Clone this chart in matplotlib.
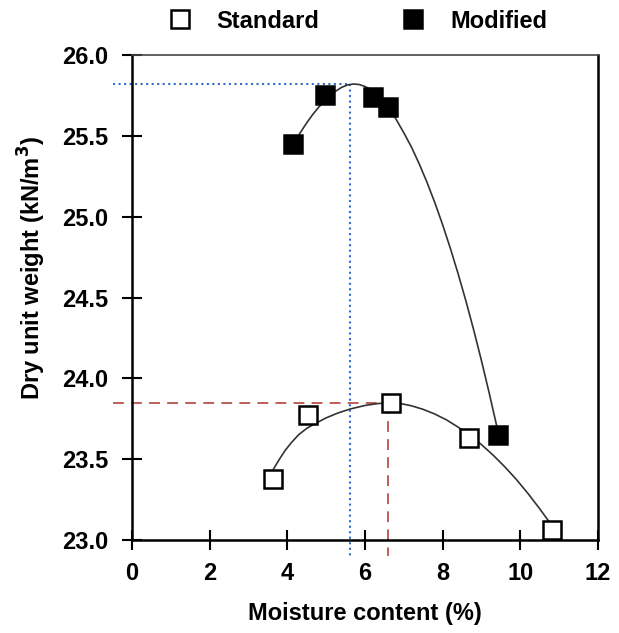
import matplotlib
matplotlib.use('Agg')
import matplotlib.pyplot as plt
from matplotlib.lines import Line2D

plt.rcParams['font.family'] = ['Liberation Sans', 'DejaVu Sans']
plt.rcParams['font.weight'] = 'bold'

# measured points
std_w = [3.63, 4.53, 6.67, 8.67, 10.82]
std_g = [23.38, 23.77, 23.85, 23.63, 23.06]
mod_w = [4.14, 4.96, 6.22, 6.59, 9.42]
mod_g = [25.45, 25.75, 25.74, 25.68, 23.65]

# fitted curves
std_curve_w = [3.65, 3.8, 3.95, 4.1, 4.29, 4.5, 4.72, 5.0, 5.3, 5.62, 6.0, 6.3, 6.6, 6.9,
               7.2, 7.5, 7.8, 8.1, 8.4, 8.7, 9.0, 9.3, 9.6, 9.9, 10.2, 10.5, 10.72, 10.8]
std_curve_g = [23.44, 23.50, 23.555, 23.60, 23.65, 23.69, 23.72, 23.755, 23.785, 23.81, 23.832, 23.843, 23.849, 23.845,
               23.83, 23.808, 23.779, 23.743, 23.698, 23.648, 23.59, 23.525, 23.453, 23.374, 23.287, 23.193, 23.12, 23.093]
mod_curve_w = [4.2, 4.35, 4.5, 4.65, 4.8, 4.95, 5.1, 5.25, 5.4, 5.55, 5.7, 5.85, 6.0, 6.15, 6.3, 6.45, 6.57,
               6.8, 7.0, 7.2, 7.4, 7.6, 7.8, 8.0, 8.2, 8.4, 8.6, 8.8, 9.0, 9.2, 9.39]
mod_curve_g = [25.47, 25.525, 25.58, 25.63, 25.675, 25.713, 25.748, 25.777, 25.80, 25.815, 25.821, 25.818, 25.806, 25.787, 25.76, 25.725, 25.69,
               25.604, 25.52, 25.43, 25.326, 25.212, 25.087, 24.951, 24.804, 24.647, 24.479, 24.30, 24.11, 23.909, 23.709]

# optimum values
omc_mod, mdd_mod = 5.62, 25.82
omc_std, mdd_std = 6.59, 23.85

fig = plt.figure(figsize=(6.19, 6.33), dpi=100)
ax = fig.add_axes([0.213, 0.147, 0.753, 0.766])

ax.plot(std_curve_w, std_curve_g, '-', color='#333333', lw=1.2, zorder=2)
ax.plot(mod_curve_w, mod_curve_g, '-', color='#333333', lw=1.2, zorder=2)

ax.plot([-0.48, omc_mod], [mdd_mod, mdd_mod], ':', color='#2e6ec8', lw=1.5, clip_on=False, zorder=1)
ax.plot([omc_mod, omc_mod], [mdd_mod, 22.9], ':', color='#2e6ec8', lw=1.5, clip_on=False, zorder=1)
ax.plot([-0.48, omc_std], [mdd_std, mdd_std], '--', color='#b8524c', lw=1.3, dashes=(6, 4), clip_on=False, zorder=1)
ax.plot([omc_std, omc_std], [mdd_std, 22.9], '--', color='#b8524c', lw=1.3, dashes=(6, 4), clip_on=False, zorder=1)

ax.plot(std_w, std_g, 's', ms=12.5, mfc='white', mec='black', mew=1.8, ls='none', zorder=3)
ax.plot(mod_w, mod_g, 's', ms=12.5, mfc='black', mec='black', mew=1.8, ls='none', zorder=3)

ax.set_xlim(0, 12)
ax.set_ylim(23.0, 26.0)
ax.set_xticks(range(0, 13, 2))
ax.set_yticks([23.0, 23.5, 24.0, 24.5, 25.0, 25.5, 26.0])
ax.set_yticklabels(['%.1f' % v for v in ax.get_yticks()])
ax.tick_params(direction='inout', length=14, width=1.5, labelsize=17)
ax.tick_params(axis='x', pad=9)
ax.tick_params(axis='y', pad=10)
for side in ['left', 'bottom', 'right']:
    ax.spines[side].set_linewidth(1.8)
ax.spines['top'].set_linewidth(1.2)
ax.spines['top'].set_color('#444444')

ax.set_xlabel('Moisture content (%)', fontsize=17, fontweight='bold', labelpad=12)
ax.set_ylabel('Dry unit weight (kN/m$^\\mathbf{3}$)', fontsize=17, fontweight='bold')
ax.yaxis.set_label_coords(-0.18, 0.561)

handles = [Line2D([], [], marker='s', ms=13.5, mfc='white', mec='black', mew=1.8, ls='none'),
           Line2D([], [], marker='s', ms=13.5, mfc='black', mec='black', mew=1.8, ls='none')]
fig.legend(handles, ['Standard', 'Modified'], loc='center left', bbox_to_anchor=(156 / 619, 1 - 21 / 633),
           ncol=2, frameon=False, handletextpad=0.57, columnspacing=2.95, borderpad=0, borderaxespad=0,
           prop={'weight': 'bold', 'size': 17})

fig.savefig('out.png', dpi=100)
